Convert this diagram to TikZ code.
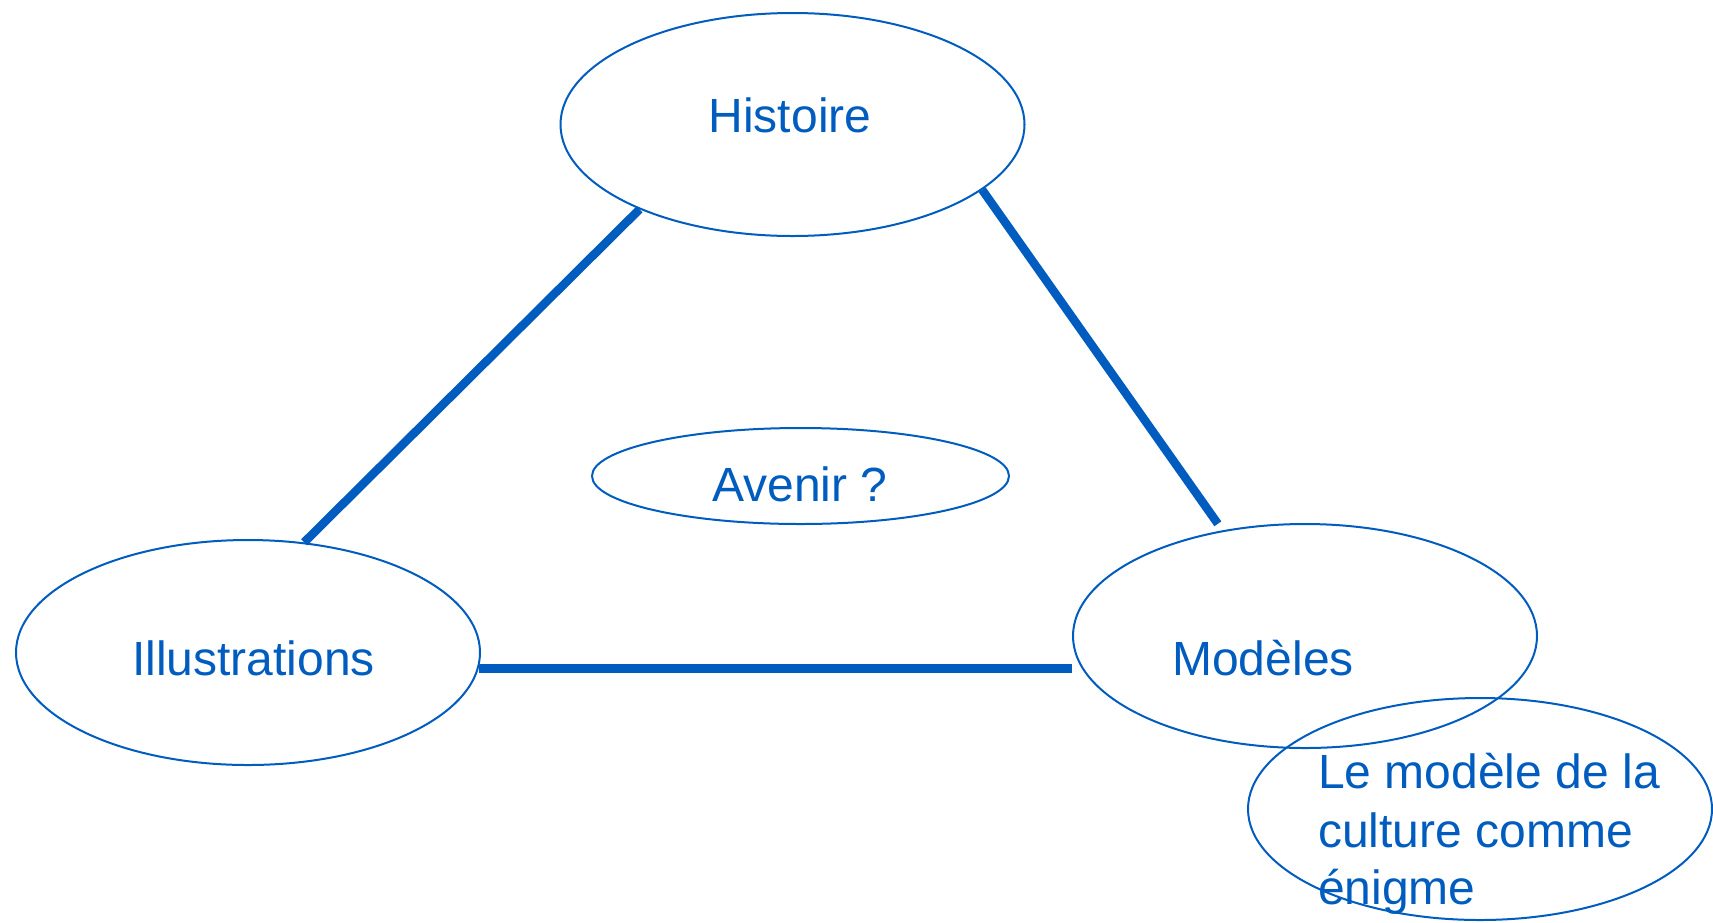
\documentclass[tikz,border=0pt]{standalone}
\usepackage{fontspec}
\setmainfont{Liberation Sans}
\usetikzlibrary{shapes.geometric}
\definecolor{dblue}{RGB}{0,92,190}
\tikzset{
  oval/.style={draw=dblue, line width=2pt, ellipse, inner sep=0pt},
  conn/.style={draw=dblue, line width=8.5pt},
  lbl/.style={text=dblue, font=\fontsize{48}{58}\selectfont, inner sep=0pt}
}
\begin{document}
\begin{tikzpicture}[x=1pt,y=-1pt]
\useasboundingbox (0,0) rectangle (1713,922);
\node[oval, minimum width=464pt, minimum height=223pt] (hist) at (792.5,124.5) {};
\node[oval, minimum width=417pt, minimum height=96pt] (aven) at (800.5,476) {};
\node[oval, minimum width=464pt, minimum height=225pt] (ill) at (248,652.5) {};
\node[oval, minimum width=464pt, minimum height=224pt] (mod) at (1305,636) {};
\node[oval, minimum width=464pt, minimum height=222pt] (enig) at (1480,809) {};
\node[lbl, anchor=base] (thist) at (790,132) {Histoire};
\node[lbl, anchor=base] (taven) at (800,501) {Avenir ?};
\node[lbl, anchor=base] (till) at (253.5,675) {Illustrations};
\node[lbl, anchor=base] (tmod) at (1263,675) {Modèles};
\node[lbl, anchor=base west] (tenig1) at (1318,788) {Le modèle de la};
\node[lbl, anchor=base west] (tenig2) at (1318,847) {culture comme};
\node[lbl, anchor=base west] (tenig3) at (1318,904) {énigme};
\draw[conn] (hist.209.6) -- (ill.63);
\draw[conn, shorten >=8pt] (hist.-19.7) -- (mod.128.5);
\draw[conn] (ill.-4) -- (ill.-4 -| mod.west);
\end{tikzpicture}
\end{document}
